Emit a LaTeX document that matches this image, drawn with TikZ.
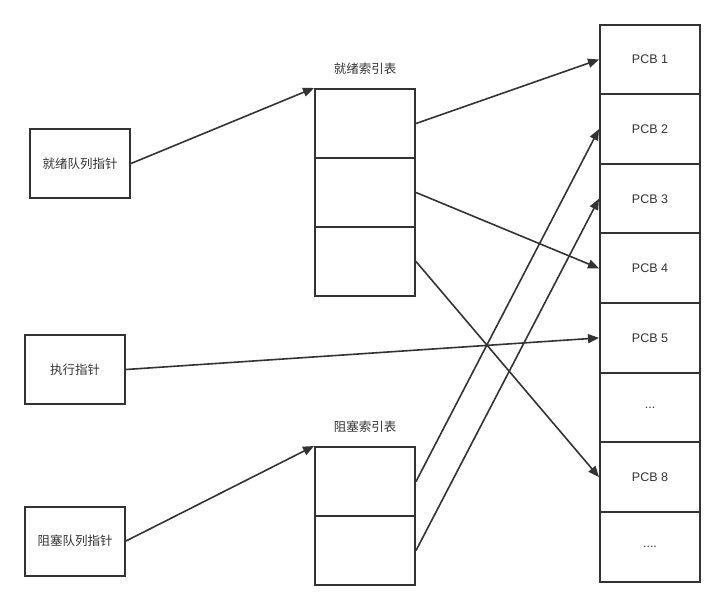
\documentclass[tikz,border=0pt]{standalone}
\usepackage{fontspec}
\setmainfont{Liberation Sans}
\newfontfamily\cjk{Noto Sans CJK SC}
\usetikzlibrary{arrows.meta}
\definecolor{linegray}{HTML}{333333}

\begin{document}
\begin{tikzpicture}[x=1pt,y=-1pt]
		\tikzstyle{every node}+=[inner sep=0pt,text=linegray,font=\fontsize{12.5}{15}\selectfont]
		\tikzstyle{cell}=[draw=linegray,line width=2pt,minimum width=100pt,minimum height=69pt]
		\tikzstyle{pcbcell}=[cell,minimum height=69.6pt]
		\tikzstyle{ptr}=[cell,font=\cjk\fontsize{12.5}{15}\selectfont]
		\tikzstyle{title}=[font=\cjk\fontsize{12.5}{15}\selectfont]
		\tikzstyle{link}=[draw=linegray,line width=1.6pt,-{Triangle[length=11pt,width=9pt]}]
		\useasboundingbox (0,0) rectangle (725,612);
		\node [ptr] (readyptr) at (80,163.5) {就绪队列指针};
		\node [ptr] (runptr) at (75,369.5) {执行指针};
		\node [ptr] (blockptr) at (75,541) {阻塞队列指针};
		\node [title] (readytitle) at (365,69) {就绪索引表};
		\node [cell] (ready1) at (365,123.5) {};
		\node [cell] (ready2) at (365,192.5) {};
		\node [cell] (ready3) at (365,261.5) {};
		\node [title] (blocktitle) at (365,427) {阻塞索引表};
		\node [cell] (block1) at (365,481.5) {};
		\node [cell] (block2) at (365,550.5) {};
		\node [pcbcell] (pcb1) at (650,59.5) {PCB 1};
		\node [pcbcell] (pcb2) at (650,129.1) {PCB 2};
		\node [pcbcell] (pcb3) at (650,198.7) {PCB 3};
		\node [pcbcell] (pcb4) at (650,268.3) {PCB 4};
		\node [pcbcell] (pcb5) at (650,337.9) {PCB 5};
		\node [pcbcell] (pcb6) at (650,407.5) {...};
		\node [pcbcell] (pcb8) at (650,477.1) {PCB 8};
		\node [pcbcell] (pcb9) at (650,546.7) {....};
		\draw [link] (readyptr.east) -- (ready1.north west);
		\draw [link] (runptr.east) -- (pcb5.west);
		\draw [link] (blockptr.east) -- (block1.north west);
		\draw [link] (ready1.east) -- (pcb1.west);
		\draw [link] (ready2.east) -- (pcb4.west);
		\draw [link] (ready3.east) -- (pcb8.west);
		\draw [link] (block1.east) -- (pcb2.west);
		\draw [link] (block2.east) -- (pcb3.west);
\end{tikzpicture}
\end{document}
